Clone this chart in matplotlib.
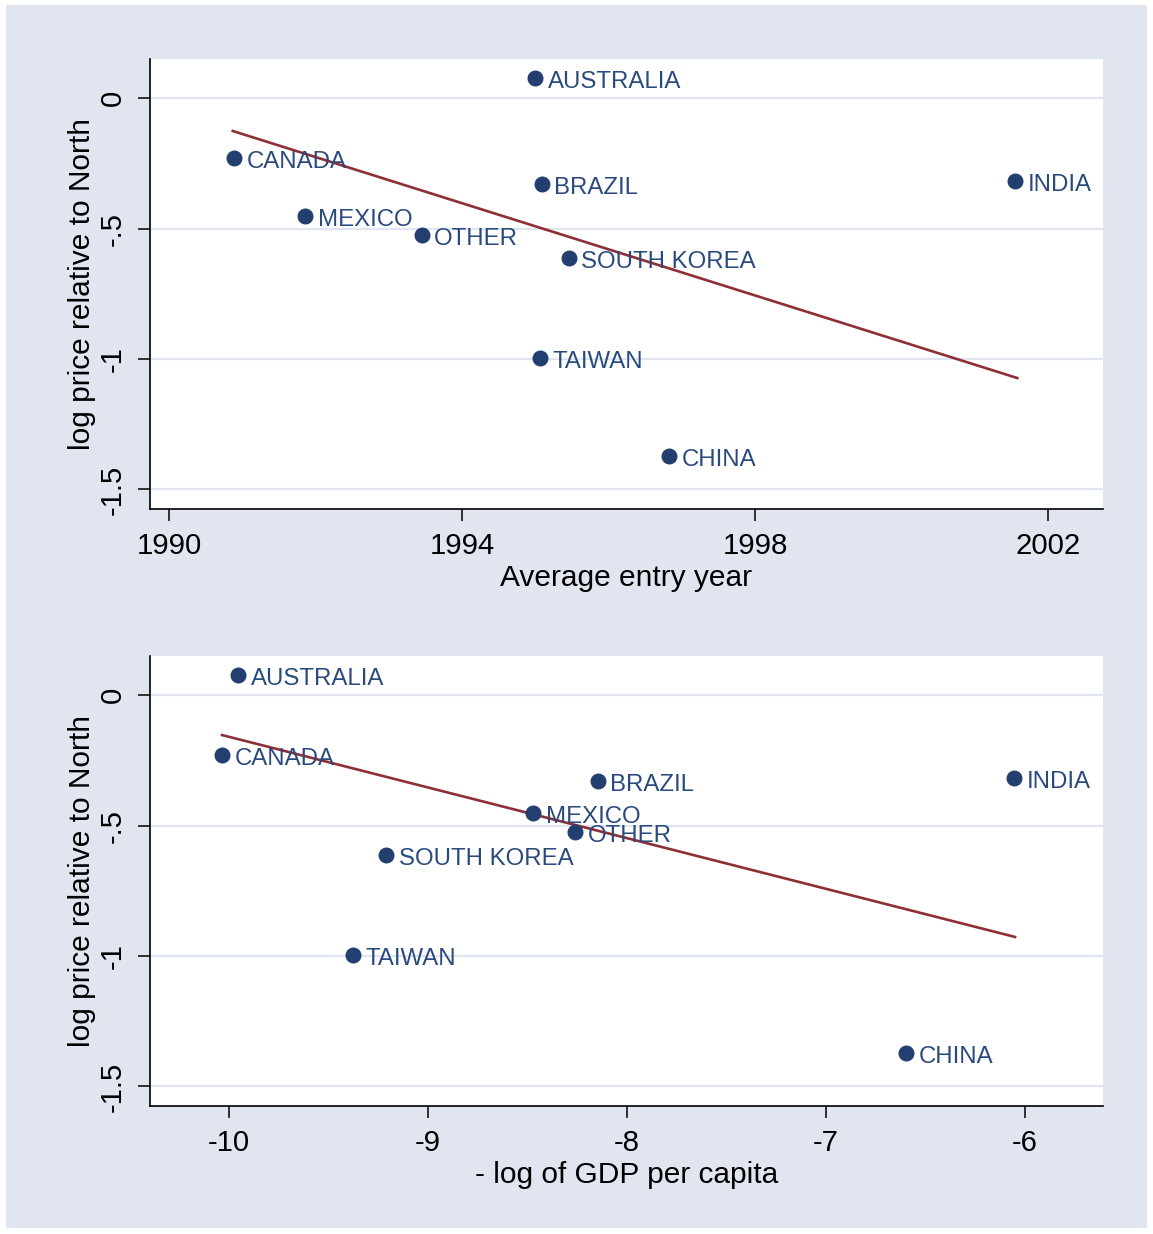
import numpy as np
import matplotlib
matplotlib.use('Agg')
import matplotlib.pyplot as plt
from matplotlib.patches import Rectangle

plt.rcParams['font.family'] = ['Liberation Sans', 'DejaVu Sans']

# data
countries = ['AUSTRALIA', 'CANADA', 'BRAZIL', 'INDIA', 'MEXICO', 'OTHER',
             'SOUTH KOREA', 'TAIWAN', 'CHINA']
log_price = [0.077, -0.230, -0.330, -0.318, -0.452, -0.525, -0.613, -0.996, -1.372]
entry_year = [1995.0, 1990.89, 1995.09, 2001.55, 1991.86, 1993.45, 1995.46, 1995.06, 1996.83]
neg_log_gdp = [-9.955, -10.035, -8.146, -6.055, -8.472, -8.261, -9.211, -9.377, -6.598]

# fitted lines (end points as drawn)
fit_year_x = [1990.87, 2001.58]
fit_year_y = [-0.126, -1.073]
fit_gdp_x = [-10.035, -6.050]
fit_gdp_y = [-0.153, -0.927]

year_ticks = [1990, 1994, 1998, 2002]
gdp_ticks = [-10, -9, -8, -7, -6]
y_ticks = [0, -0.5, -1, -1.5]
y_ticklabels = ['0', '-.5', '-1', '-1.5']

BG = '#E1E5EF'
NAVY = '#233F70'
TXT = '#2A4A7E'
MAROON = '#8E2F36'

fig = plt.figure(figsize=(11.53, 12.34), dpi=100)
fig.patch.set_facecolor('white')
fig.patches.append(Rectangle((6/1153, 1-1228/1234), 1141/1153, 1223/1234,
                             transform=fig.transFigure, facecolor=BG,
                             edgecolor='none', zorder=-10))

ax1 = fig.add_axes([150/1153, 1-509/1234, 953/1153, 450/1234])
ax2 = fig.add_axes([150/1153, 1-1106/1234, 953/1153, 450/1234])


def panel(ax, xs, fx, fy, xticks, xlim, xlabel):
    ax.set_facecolor('white')
    for t in y_ticks:
        ax.axhline(t, color=BG, lw=1.6, zorder=0)
    ax.plot(fx, fy, color=MAROON, lw=1.9, zorder=2)
    ax.plot(xs, log_price, 'o', color=NAVY, ms=10.5, zorder=3, mec=NAVY)
    for name, x, y in zip(countries, xs, log_price):
        ax.annotate(name, (x, y), xytext=(9, -7), textcoords='offset points',
                    va='baseline', ha='left', fontsize=17.3, color=TXT, zorder=4)
    ax.set_xlim(*xlim)
    ax.set_ylim(-1.575, 0.15)
    ax.set_xticks(xticks)
    ax.set_xticklabels([str(t) for t in xticks])
    ax.set_yticks(y_ticks)
    ax.set_yticklabels(y_ticklabels, rotation=90, va='center')
    ax.tick_params(direction='out', length=8.6, width=1.1, labelsize=21.2, pad=8)
    for s in ['top', 'right']:
        ax.spines[s].set_visible(False)
    for s in ['left', 'bottom']:
        ax.spines[s].set_linewidth(1.2)
    ax.set_xlabel(xlabel, fontsize=21.5, labelpad=3)
    ax.set_ylabel('log price relative to North', fontsize=21.5, labelpad=2)


panel(ax1, entry_year, fit_year_x, fit_year_y, year_ticks, (1989.74, 2002.75),
      'Average entry year')
panel(ax2, neg_log_gdp, fit_gdp_x, fit_gdp_y, gdp_ticks, (-10.397, -5.608),
      '- log of GDP per capita')

fig.savefig('out.png', dpi=100, facecolor=fig.get_facecolor())
